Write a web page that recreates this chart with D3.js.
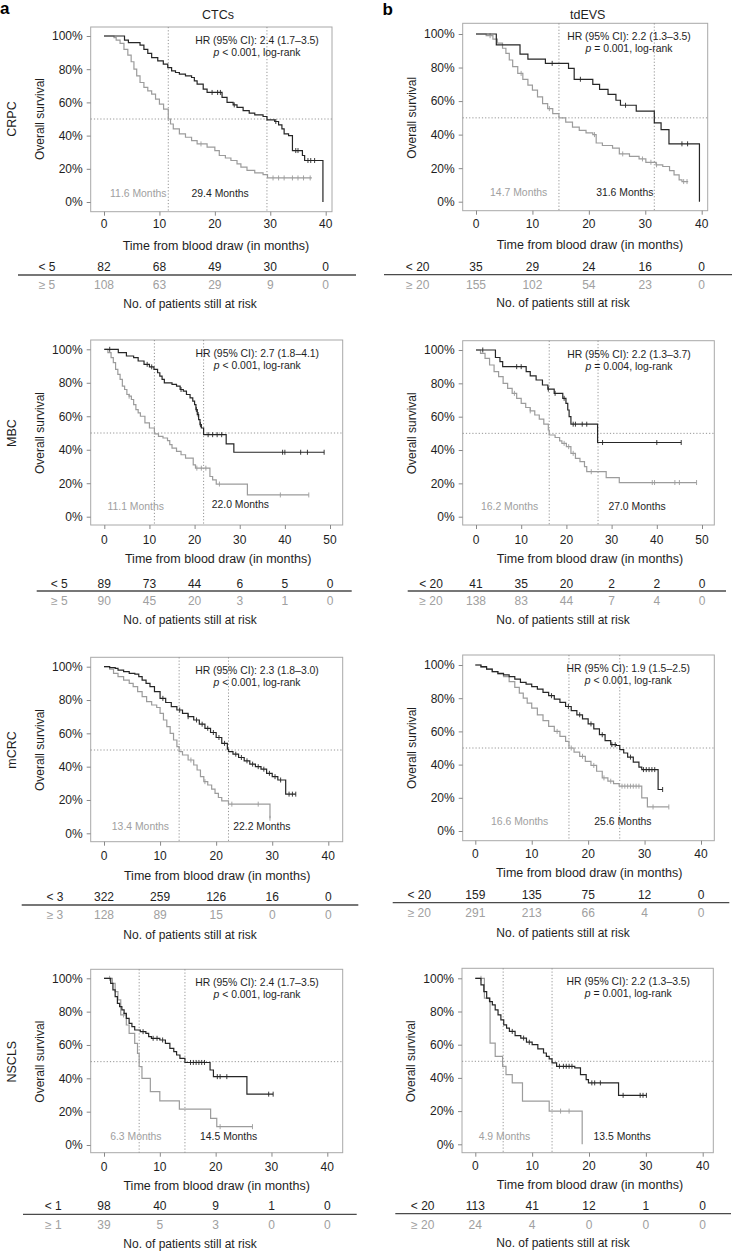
<!DOCTYPE html>
<html><head><meta charset="utf-8">
<script src="https://cdn.jsdelivr.net/npm/d3@7"></script>
<style>body{margin:0;background:#fff}svg{display:block;font-family:"Liberation Sans",Arial,Helvetica,sans-serif}</style>
</head><body><svg id="c" width="732" height="1251"></svg>
<script>
// ---------------- DATA ----------------
const columnTitles = ["CTCs", "tdEVS"];
const columnLetters = ["a", "b"];
const rowLabels = ["CRPC", "MBC", "mCRC", "NSCLS"];
const yTickValues = [0, 0.2, 0.4, 0.6, 0.8, 1];
const xTicks40 = [0, 10, 20, 30, 40];
const xTicks50 = [0, 10, 20, 30, 40, 50];

// Kaplan-Meier step points [month, survival]; "Lo" = favourable (black), "Hi" = unfavourable (grey)
const crpcCtcLo = [[0,1],[3.7,0.975],[4.4,0.96],[6.5,0.945],[7.2,0.92],[7.9,0.895],[8.6,0.87],[9.7,0.85],[10.7,0.83],[11.5,0.81],[12.2,0.79],[12.9,0.78],[13.6,0.77],[14.7,0.76],[15.8,0.75],[16.3,0.73],[16.8,0.71],[17.9,0.68],[18.6,0.66],[21.3,0.63],[22.2,0.60],[23.3,0.585],[24,0.57],[25.1,0.55],[26.2,0.535],[27.2,0.525],[28.7,0.515],[29.4,0.495],[30.8,0.485],[31.5,0.465],[32.1,0.44],[32.5,0.41],[33.3,0.40],[34,0.31],[35.8,0.28],[36.2,0.25],[39.5,0]];
const crpcCtcLoEnd = 39.5;
const crpcCtcLoCens = [19.5,20.5,21,23.5,31,34.6,35,36.8,37.3,38];
const crpcCtcHi = [[0,1],[1.8,0.99],[2.2,0.975],[2.9,0.955],[3.6,0.92],[4.3,0.885],[4.9,0.845],[5.4,0.80],[5.9,0.76],[6.5,0.72],[7.2,0.69],[7.9,0.67],[8.6,0.65],[9.3,0.62],[10,0.59],[10.75,0.56],[11.6,0.50],[12,0.47],[12.5,0.44],[13.6,0.41],[14.7,0.39],[15.8,0.37],[16.8,0.35],[18.6,0.33],[20,0.31],[20.8,0.28],[21.9,0.265],[22.9,0.25],[24,0.23],[24.7,0.21],[25.8,0.19],[27.2,0.175],[28.7,0.165],[29.5,0.145]];
const crpcCtcHiEnd = 37.5;
const crpcCtcHiCens = [17.5,30.5,31.5,32.5,34,35,36,37.2];

const crpcEvLo = [[0,1],[3.6,0.935],[7.8,0.88],[9.2,0.85],[12.3,0.825],[16.4,0.795],[17.4,0.73],[20.7,0.70],[21.9,0.67],[23.4,0.64],[24.8,0.605],[25.6,0.575],[28.4,0.54],[31.6,0.47],[32.8,0.43],[34.2,0.345],[39.6,0]];
const crpcEvLoEnd = 39.6;
const crpcEvLoCens = [13.5,18.5,26.5,36.5,37.5];
const crpcEvHi = [[0,1],[1.8,0.99],[3,0.97],[3.8,0.945],[4.7,0.915],[5.3,0.885],[5.9,0.845],[6.5,0.805],[7.4,0.765],[8.3,0.73],[9.2,0.695],[10,0.665],[10.9,0.625],[11.8,0.585],[12.7,0.555],[13.6,0.525],[14.7,0.50],[15.9,0.475],[17.1,0.445],[18.3,0.425],[19.5,0.41],[20.7,0.40],[21.3,0.35],[22.4,0.335],[24.2,0.32],[25.4,0.285],[27.2,0.27],[28.9,0.255],[30.1,0.235],[31.9,0.22],[33.1,0.21],[34.3,0.185],[35.1,0.16],[36,0.13],[36.5,0.12]];
const crpcEvHiEnd = 37.6;
const crpcEvHiCens = [2.5,8,13,21,26,29.5,31,32,36.8,37.4];

const mbcCtcLo = [[0,1],[3.1,0.98],[4.9,0.96],[6.5,0.95],[7.5,0.93],[8.8,0.91],[10,0.895],[11,0.88],[11.8,0.86],[12.3,0.84],[12.8,0.82],[13.3,0.80],[15,0.79],[16,0.78],[16.8,0.76],[17.5,0.75],[18.2,0.73],[19,0.71],[19.6,0.69],[20,0.67],[20.3,0.64],[20.6,0.61],[20.9,0.58],[21.2,0.55],[21.5,0.53],[22,0.49],[27,0.435],[28.7,0.385]];
const mbcCtcLoEnd = 48.7;
const mbcCtcLoCens = [1.2,9.5,10.5,17,20.4,20.8,21.3,23,24,25,26,39.5,40,43.5,45,48.7];
const mbcCtcHi = [[0,1],[0.8,0.98],[1.5,0.95],[2,0.92],[2.5,0.88],[3,0.85],[3.5,0.82],[4,0.78],[4.5,0.76],[5,0.73],[5.5,0.72],[6,0.70],[6.5,0.67],[7,0.64],[7.5,0.62],[8,0.60],[9,0.56],[10,0.53],[11.1,0.495],[12,0.48],[13,0.47],[14,0.455],[14.5,0.43],[15,0.41],[16,0.39],[17,0.37],[18,0.35],[19.7,0.31],[20.2,0.29],[23.4,0.24],[24,0.22],[24.8,0.195],[31.7,0.13]];
const mbcCtcHiEnd = 45.3;
const mbcCtcHiCens = [5.5,20.5,21.5,22.5,25.5,39,45.3];

const mbcEvLo = [[0,1],[4.3,0.955],[5.3,0.93],[5.9,0.90],[11.1,0.87],[12,0.845],[13.3,0.82],[14.7,0.79],[15.9,0.765],[17.3,0.74],[19.2,0.71],[19.9,0.68],[20.3,0.64],[20.6,0.60],[21,0.555],[26.9,0.445]];
const mbcEvLoEnd = 45.4;
const mbcEvLoCens = [1.5,9,10,16,17.5,19.5,21.5,22,23.5,24.5,28,40,45.4];
const mbcEvHi = [[0,1],[1,0.98],[2,0.95],[3,0.91],[4,0.87],[5,0.84],[6,0.80],[7,0.77],[8,0.74],[9,0.71],[10,0.68],[11,0.655],[12,0.635],[13,0.61],[14,0.585],[15,0.555],[16,0.52],[16.2,0.49],[17.5,0.475],[18.5,0.455],[19,0.44],[20,0.42],[21,0.38],[22,0.35],[23,0.33],[24,0.30],[24.5,0.27],[28.8,0.235],[31.7,0.205]];
const mbcEvHiEnd = 48.8;
const mbcEvHiCens = [8.5,12,19.5,20.5,21.5,25.5,39,39.5,44,45,48.8];

const mcrcCtcLo = [[0,1],[1,0.995],[2,0.99],[2.5,0.98],[3.5,0.97],[4.5,0.96],[5.5,0.955],[6.2,0.94],[6.8,0.92],[7.5,0.90],[8.2,0.88],[9,0.85],[10,0.81],[11,0.785],[12,0.76],[13,0.74],[14,0.72],[15,0.70],[16,0.68],[17,0.655],[18,0.63],[19,0.605],[20,0.575],[21,0.54],[22,0.505],[22.2,0.49],[23,0.475],[24,0.455],[25,0.435],[26,0.415],[27,0.40],[28,0.385],[29,0.36],[30,0.34],[31,0.32],[32.4,0.235]];
const mcrcCtcLoEnd = 34.2;
const mcrcCtcLoCens = [10.5,13.5,15,16.5,17.5,18.5,19.5,20.5,21.5,23.5,24.5,25.5,26.5,27.5,28.5,29.5,30.5,31.5,33,33.6,34.2];
const mcrcCtcHi = [[0,1],[1,0.985],[1.7,0.96],[2.5,0.94],[3.5,0.92],[4.5,0.90],[5.2,0.88],[6,0.85],[6.8,0.82],[7.6,0.79],[8.5,0.77],[9.4,0.755],[10,0.72],[10.6,0.68],[11.2,0.64],[11.8,0.60],[12.4,0.56],[13,0.52],[13.4,0.49],[14,0.47],[15,0.44],[16,0.41],[16.6,0.38],[17.2,0.34],[17.8,0.31],[18.5,0.29],[19.2,0.265],[19.8,0.24],[20.4,0.215],[21,0.195],[22.2,0.175],[29.6,0.09]];
const mcrcCtcHiEnd = 29.6;
const mcrcCtcHiCens = [15.5,18,22.8,27.5,29.6];

const mcrcEvLo = [[0,1],[1,0.99],[2,0.975],[3,0.96],[4,0.95],[5,0.94],[6,0.93],[7,0.915],[8,0.895],[9,0.885],[10,0.87],[11,0.855],[12,0.835],[13,0.815],[14,0.795],[15,0.775],[16,0.75],[17,0.725],[18,0.70],[19,0.675],[20,0.645],[21,0.615],[22,0.58],[23,0.545],[24,0.52],[25,0.515],[25.6,0.49],[26.3,0.47],[27,0.445],[28,0.415],[29,0.385],[29.5,0.37],[32.4,0.25]];
const mcrcEvLoEnd = 33.2;
const mcrcEvLoCens = [13.5,16.5,18.5,20.5,22.5,24.2,24.8,27.5,29.8,30.3,30.8,31.3,31.8,33.2];
const mcrcEvHi = [[0,1],[1,0.985],[2,0.975],[3,0.96],[4,0.945],[5,0.93],[6,0.90],[7,0.865],[7.8,0.83],[8.5,0.80],[9.2,0.77],[10,0.74],[11,0.70],[12,0.665],[13,0.63],[14,0.60],[15,0.57],[16,0.54],[16.6,0.50],[17.5,0.475],[18.5,0.45],[19.5,0.42],[20.5,0.395],[21.5,0.36],[22.5,0.32],[23.5,0.30],[24.5,0.285],[25.5,0.27],[29.5,0.20],[30.5,0.145]];
const mcrcEvHiEnd = 34.3;
const mcrcEvHiCens = [14.5,17,19,21,22.8,24,26,26.5,27,27.5,28,28.5,29,31.5,34.3];

const nsclsCtcLo = [[0,1],[1.2,0.97],[1.6,0.93],[2,0.89],[2.4,0.85],[2.8,0.83],[3.2,0.81],[3.6,0.79],[4,0.76],[4.5,0.73],[5,0.71],[5.5,0.69],[6.5,0.68],[7.5,0.67],[8,0.65],[8.5,0.64],[10,0.63],[11,0.61],[11.8,0.58],[12.5,0.56],[13,0.54],[13.6,0.52],[14.5,0.495],[19,0.45],[19.6,0.41],[25.6,0.305]];
const nsclsCtcLoEnd = 30.3;
const nsclsCtcLoCens = [7,8.8,9.5,10.5,15.5,16,16.5,17,17.5,18,20.3,20.8,22,29.5,30.3];
const nsclsCtcHi = [[0,1],[1.5,0.97],[2,0.92],[2.5,0.87],[3,0.78],[4,0.72],[4.5,0.67],[5.5,0.61],[6,0.55],[6.3,0.47],[6.8,0.40],[8.3,0.32],[10,0.265],[13.5,0.215],[19.1,0.16],[20.2,0.11]];
const nsclsCtcHiEnd = 26.6;
const nsclsCtcHiCens = [1,3.5,20.8,26.6];

const nsclsEvLo = [[0,1],[1,0.96],[1.5,0.92],[2,0.88],[2.5,0.86],[3,0.84],[3.5,0.81],[4,0.78],[4.5,0.75],[5,0.72],[5.5,0.70],[6,0.68],[7,0.655],[8,0.64],[9,0.615],[10,0.60],[11,0.575],[12,0.55],[12.5,0.53],[13,0.515],[13.5,0.49],[14.3,0.47],[17.5,0.46],[18.5,0.42],[19.5,0.39],[19.9,0.37],[25.2,0.295]];
const nsclsEvLoEnd = 30.1;
const nsclsEvLoCens = [6.5,8.5,9.5,14.8,15.5,16,16.5,17,20.5,21,22,26,29,29.5,30.1];
const nsclsEvHi = [[0,1],[1.6,0.88],[2.6,0.61],[3.5,0.53],[4.8,0.47],[5.4,0.42],[6.5,0.37],[8.3,0.26],[13,0.20],[18.8,0]];
const nsclsEvHiEnd = 18.8;
const nsclsEvHiCens = [1,15,16.5];

// medians [grey, black]
const medians = [[11.6,29.4],[14.7,31.6],[11.1,22.0],[16.2,27.0],[13.4,22.2],[16.6,25.6],[6.3,14.5],[4.9,13.5]];
const hrTexts = ["HR (95% CI): 2.4 (1.7–3.5)","HR (95% CI): 2.2 (1.3–3.5)","HR (95% CI): 2.7 (1.8–4.1)","HR (95% CI): 2.2 (1.3–3.7)","HR (95% CI): 2.3 (1.8–3.0)","HR (95% CI): 1.9 (1.5–2.5)","HR (95% CI): 2.4 (1.7–3.5)","HR (95% CI): 2.2 (1.3–3.5)"];
const pOps = ["<","=","<","=","<","<","<","="];
const pVals = ["0.001","0.001","0.001","0.004","0.001","0.001","0.001","0.001"];
const groupLo = ["< 5","< 20","< 5","< 20","< 3","< 20","< 1","< 20"];
const groupHi = ["≥ 5","≥ 20","≥ 5","≥ 20","≥ 3","≥ 20","≥ 1","≥ 20"];
const riskLo = [[82,68,49,30,0],[35,29,24,16,0],[89,73,44,6,5,0],[41,35,20,2,2,0],[322,259,126,16,0],[159,135,75,12,0],[98,40,9,1,0],[113,41,12,1,0]];
const riskHi = [[108,63,29,9,0],[155,102,54,23,0],[90,45,20,3,1,0],[138,83,44,7,4,0],[128,89,15,0,0],[291,213,66,4,0],[39,5,3,0,0],[24,4,0,0,0]];
const xTitle = "Time from blood draw (in months)";
const yTitle = "Overall survival";
const riskTitle = "No. of patients still at risk";

// ---------------- LAYOUT ----------------
const layout = [
 {x0:104, xEnd:325.7, y100:36, y0:202, fl:90.7, ft:27, fr:332, fb:211.7, lblX:47, ln:[18,356], rt:190, med:[[1.1,0.05],[15.8,0.05]]},
 {x0:476, xEnd:701.7, y100:34, y0:201.7, fl:462.7, ft:23.3, fr:707.7, fb:210.7, lblX:417.7, ln:[384,732], rt:563, med:[[2.5,0.054],[21.3,0.054]]},
 {x0:104.3, xEnd:330, y100:349.3, y0:516.7, fl:90.7, ft:340, fr:342.7, fb:525, lblX:59.3, ln:[36.7,351.7], rt:190, med:[[0.7,0.064],[23.8,0.076]]},
 {x0:476, xEnd:702, y100:350, y0:516.7, fl:462.7, ft:340.7, fr:714.3, fb:525, lblX:431, ln:[407.7,726], rt:563, med:[[1.1,0.064],[29.3,0.064]]},
 {x0:104, xEnd:328.3, y100:666.7, y0:833.3, fl:90.7, ft:657.3, fr:342.7, fb:841.7, lblX:55, ln:[21.7,358.3], rt:190, med:[[1.4,0.044],[23.05,0.044]]},
 {x0:475.3, xEnd:701, y100:665, y0:831, fl:462.7, ft:655, fr:714.3, fb:840.7, lblX:419.3, ln:[392.7,729.3], rt:563, med:[[2.8,0.056],[21.1,0.056]]},
 {x0:104, xEnd:327.3, y100:978.3, y0:1145, fl:90.7, ft:969.3, fr:342.7, fb:1152.7, lblX:53.3, ln:[23,356.7], rt:190, med:[[1.1,0.05],[17.2,0.05]]},
 {x0:475.3, xEnd:702.7, y100:978.3, y0:1144.3, fl:462, ft:968.3, fr:713.3, fb:1152.7, lblX:422.7, ln:[395.3,731], rt:563, med:[[0.6,0.046],[20.8,0.046]]}
];
// offsets (from 0% line) of tick labels, x title, risk row 1, separator, risk row 2, risk title centres
const rowOff = [[22,43,64.7,73,83,101.3],[22.6,41.3,66.6,74.3,84,103],[22.7,41.7,63.4,71.7,81.7,101.7],[21.7,40,61,69.3,80,98.3]];

const curves = [
 [crpcCtcLo,crpcCtcLoEnd,crpcCtcLoCens,crpcCtcHi,crpcCtcHiEnd,crpcCtcHiCens],
 [crpcEvLo,crpcEvLoEnd,crpcEvLoCens,crpcEvHi,crpcEvHiEnd,crpcEvHiCens],
 [mbcCtcLo,mbcCtcLoEnd,mbcCtcLoCens,mbcCtcHi,mbcCtcHiEnd,mbcCtcHiCens],
 [mbcEvLo,mbcEvLoEnd,mbcEvLoCens,mbcEvHi,mbcEvHiEnd,mbcEvHiCens],
 [mcrcCtcLo,mcrcCtcLoEnd,mcrcCtcLoCens,mcrcCtcHi,mcrcCtcHiEnd,mcrcCtcHiCens],
 [mcrcEvLo,mcrcEvLoEnd,mcrcEvLoCens,mcrcEvHi,mcrcEvHiEnd,mcrcEvHiCens],
 [nsclsCtcLo,nsclsCtcLoEnd,nsclsCtcLoCens,nsclsCtcHi,nsclsCtcHiEnd,nsclsCtcHiCens],
 [nsclsEvLo,nsclsEvLoEnd,nsclsEvLoCens,nsclsEvHi,nsclsEvHiEnd,nsclsEvHiCens]
];

const BLACK = "#262626", GREY = "#9c9c9c", TXT = "#1e1e1e", GTXT = "#a0a0a0";
const svg = d3.select("#c");

// column titles and letters
[218, 587.7].forEach((cx, i) => {
  svg.append("text").attr("x", cx).attr("y", 19.3).attr("text-anchor", "middle")
    .attr("font-size", 12.5).attr("fill", TXT).text(columnTitles[i]);
});
svg.append("text").attr("x", 0).attr("y", 13.5).attr("font-size", 17).attr("font-weight", "bold").attr("fill", "#000").text(columnLetters[0]);
svg.append("text").attr("x", 382.5).attr("y", 14.5).attr("font-size", 17).attr("font-weight", "bold").attr("fill", "#000").text(columnLetters[1]);

function stepVal(steps, t) {
  let s = steps[0][1];
  for (const p of steps) { if (p[0] <= t) s = p[1]; else break; }
  return s;
}

layout.forEach((L, i) => {
  const row = Math.floor(i / 2), col = i % 2;
  const off = rowOff[row];
  const ticks = (row === 1) ? xTicks50 : xTicks40;
  const xMax = ticks[ticks.length - 1];
  const x = d3.scaleLinear().domain([0, xMax]).range([L.x0, L.xEnd]);
  const y = d3.scaleLinear().domain([0, 1]).range([L.y0, L.y100]);
  const g = svg.append("g");
  const ymid = (L.y0 + L.y100) / 2;

  // row label
  if (col === 0) {
    g.append("text").attr("transform", `translate(${12 + 4.3},${ymid}) rotate(-90)`)
      .attr("text-anchor", "middle").attr("font-size", 12.5).attr("fill", TXT).text(rowLabels[row]);
  }
  // y title
  g.append("text").attr("transform", `translate(${L.fl - 51 + 4.3},${ymid}) rotate(-90)`)
    .attr("text-anchor", "middle").attr("font-size", 12).attr("fill", TXT).text(yTitle);

  // frame
  g.append("rect").attr("x", L.fl).attr("y", L.ft).attr("width", L.fr - L.fl).attr("height", L.fb - L.ft)
    .attr("fill", "none").attr("stroke", "#a8a8a8").attr("stroke-width", 1);

  // y axis ticks
  const yAxis = d3.axisLeft(y).tickValues(yTickValues).tickSize(4).tickPadding(4)
    .tickFormat(d => Math.round(d * 100) + "%");
  const ya = g.append("g").attr("transform", `translate(${L.fl},0)`).call(yAxis);
  ya.select(".domain").remove();
  ya.selectAll("line").attr("stroke", "#888");
  ya.selectAll("text").attr("font-size", 12).attr("fill", TXT).attr("font-family", "Liberation Sans, Arial, sans-serif");

  // x axis ticks
  const xAxis = d3.axisBottom(x).tickValues(ticks).tickSize(4).tickPadding(3).tickFormat(d3.format("d"));
  const xa = g.append("g").attr("transform", `translate(0,${L.fb})`).call(xAxis);
  xa.select(".domain").remove();
  xa.selectAll("line").attr("stroke", "#888");
  xa.selectAll("text").remove();
  ticks.forEach(t => {
    g.append("text").attr("x", x(t)).attr("y", L.y0 + off[0] + 4.3).attr("text-anchor", "middle")
      .attr("font-size", 12).attr("fill", TXT).text(t);
  });
  g.append("text").attr("x", (L.x0 + L.xEnd) / 2 + 1).attr("y", L.y0 + off[1] + 4.5).attr("text-anchor", "middle")
    .attr("font-size", 12.5).attr("fill", TXT).text(xTitle);

  // reference lines
  const med = medians[i];
  g.append("line").attr("x1", L.fl).attr("x2", L.fr).attr("y1", y(0.5)).attr("y2", y(0.5))
    .attr("stroke", "#8a8a8a").attr("stroke-width", 0.9).attr("stroke-dasharray", "1.2,2");
  med.forEach(m => {
    g.append("line").attr("x1", x(m)).attr("x2", x(m)).attr("y1", L.ft).attr("y2", L.fb)
      .attr("stroke", "#8a8a8a").attr("stroke-width", 0.9).attr("stroke-dasharray", "1.2,2");
  });

  // curves
  const [lo, loEnd, loC, hi, hiEnd, hiC] = curves[i];
  const line = d3.line().x(d => x(d[0])).y(d => y(d[1])).curve(d3.curveStepAfter);
  [[hi, hiEnd, hiC, GREY], [lo, loEnd, loC, BLACK]].forEach(([steps, end, cens, color]) => {
    const pts = steps.slice();
    const last = pts[pts.length - 1];
    if (end > last[0]) pts.push([end, last[1]]);
    g.append("path").attr("d", line(pts)).attr("fill", "none").attr("stroke", color).attr("stroke-width", 1.2);
    cens.forEach(t => {
      const yy = y(stepVal(steps, t));
      g.append("line").attr("x1", x(t)).attr("x2", x(t)).attr("y1", yy - 2.5).attr("y2", yy + 2.5)
        .attr("stroke", color).attr("stroke-width", 0.9);
    });
  });

  // median labels
  g.append("text").attr("x", x(L.med[0][0])).attr("y", y(L.med[0][1]) + 3.7)
    .attr("font-size", 10.4).attr("fill", GTXT).text(med[0].toFixed(1) + " Months");
  g.append("text").attr("x", x(L.med[1][0])).attr("y", y(L.med[1][1]) + 3.7)
    .attr("font-size", 10.4).attr("fill", TXT).text(med[1].toFixed(1) + " Months");

  // HR text
  const hx = L.x0 + 153;
  g.append("text").attr("x", hx).attr("y", L.ft + 17).attr("text-anchor", "middle")
    .attr("font-size", 10.4).attr("fill", TXT).text(hrTexts[i]);
  const t2 = g.append("text").attr("x", hx).attr("y", L.ft + 29).attr("text-anchor", "middle")
    .attr("font-size", 10.4).attr("fill", TXT);
  t2.append("tspan").attr("font-style", "italic").text("p");
  t2.append("tspan").text(` ${pOps[i]} ${pVals[i]}, log-rank`);

  // risk table
  g.append("text").attr("x", L.lblX).attr("y", L.y0 + off[2] + 4.3).attr("text-anchor", "middle")
    .attr("font-size", 12).attr("fill", TXT).text(groupLo[i]);
  g.append("text").attr("x", L.lblX).attr("y", L.y0 + off[4] + 4.3).attr("text-anchor", "middle")
    .attr("font-size", 12).attr("fill", GTXT).text(groupHi[i]);
  riskLo[i].forEach((v, k) => {
    g.append("text").attr("x", x(ticks[k])).attr("y", L.y0 + off[2] + 4.3).attr("text-anchor", "middle")
      .attr("font-size", 12).attr("fill", TXT).text(v);
  });
  riskHi[i].forEach((v, k) => {
    g.append("text").attr("x", x(ticks[k])).attr("y", L.y0 + off[4] + 4.3).attr("text-anchor", "middle")
      .attr("font-size", 12).attr("fill", GTXT).text(v);
  });
  g.append("line").attr("x1", L.ln[0]).attr("x2", L.ln[1]).attr("y1", L.y0 + off[3]).attr("y2", L.y0 + off[3])
    .attr("stroke", "#4a4a4a").attr("stroke-width", 1.3);
  g.append("text").attr("x", L.rt).attr("y", L.y0 + off[5] + 4.3).attr("text-anchor", "middle")
    .attr("font-size", 12).attr("fill", TXT).text(riskTitle);
});
</script>
</body></html>
